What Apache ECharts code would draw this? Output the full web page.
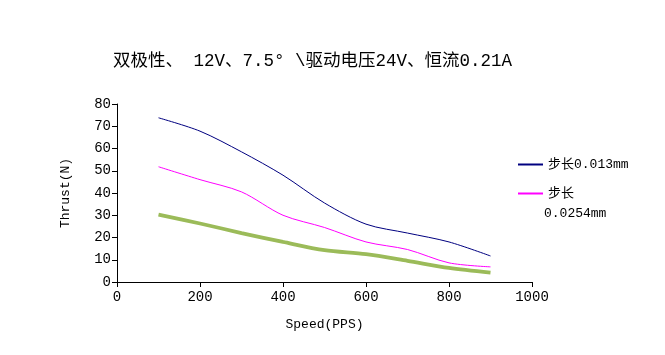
<!DOCTYPE html>
<html><head><meta charset="utf-8">
<script src="https://cdn.jsdelivr.net/npm/echarts@6/dist/echarts.min.js"></script>
<style>html,body{margin:0;padding:0;background:#fff}#c{width:665px;height:355px}</style>
</head><body><div id="c"></div>
<script>
var speeds = [100, 200, 300, 400, 500, 600, 700, 800, 900];
var step013 = [73.8, 67.8, 58.5, 48, 35.5, 26, 22, 18, 11.7];
var step0254 = [51.8, 46, 40.5, 30, 24.5, 18, 14.6, 8.6, 6.8];
var step3 = [30.3, 26.3, 22, 18, 14.3, 12.5, 9.5, 6.3, 4.2];
var xTicks = [0, 200, 400, 600, 800, 1000];
var yTicks = [0, 10, 20, 30, 40, 50, 60, 70, 80];
var titleText = '双极性、 12V、7.5° \\驱动电压24V、恒流0.21A';
var name1 = '步长0.013mm', name2 = '步长0.0254mm';
var MONO = '"Liberation Mono", "Noto Sans CJK SC", monospace';

function pairs(ys){ return speeds.map(function(x,i){ return [x, ys[i]]; }); }

var chart = echarts.init(document.getElementById('c'), null, {renderer:'canvas'});
chart.setOption({
  animation: false,
  backgroundColor: '#fff',
  title: { text: titleText, left: 108, top: 48,
    textStyle: { fontFamily: MONO, fontSize: 17.5, fontWeight: 'normal', color: '#000' } },
  grid: { left: 117, right: 133, top: 104, bottom: 73 },
  legend: {
    data: [name1, name2], orient: 'vertical', left: 512, top: 153,
    itemWidth: 25, itemHeight: 14, itemGap: 16,
    itemStyle: { opacity: 0 },
    formatter: function(n){ return n === name2 ? '步长' : n; },
    textStyle: { fontFamily: MONO, fontSize: 13, color: '#000' }
  },
  graphic: [{ type: 'text', left: 544, top: 207,
    style: { text: '0.0254mm', fontFamily: MONO, fontSize: 13, fill: '#000' } }],
  xAxis: { type: 'value', min: xTicks[0], max: xTicks[xTicks.length-1], interval: 200,
    name: 'Speed(PPS)', nameLocation: 'middle', nameGap: 36,
    nameTextStyle: { fontFamily: MONO, fontSize: 13, color: '#000' },
    axisLine: { lineStyle: { color: '#000' } },
    axisTick: { lineStyle: { color: '#000' }, length: 5 },
    axisLabel: { fontFamily: MONO, fontSize: 14, color: '#000', margin: 8,
      formatter: function(v){ return String(v); } },
    splitLine: { show: false } },
  yAxis: { type: 'value', min: yTicks[0], max: yTicks[yTicks.length-1], interval: 10,
    name: 'Thrust(N)', nameLocation: 'middle', nameGap: 45, nameRotate: 90,
    nameTextStyle: { fontFamily: MONO, fontSize: 13, color: '#000' },
    axisLine: { show: true, lineStyle: { color: '#000' } },
    axisTick: { show: true, lineStyle: { color: '#000' }, length: 5 },
    axisLabel: { fontFamily: MONO, fontSize: 14, color: '#000', margin: 6,
      formatter: function(v){ return String(v); } },
    splitLine: { show: false } },
  series: [
    { name: name1, type: 'line', data: pairs(step013), smooth: 0.3, symbol: 'none',
      lineStyle: { color: '#000080', width: 1 }, itemStyle: { color: '#000080' } },
    { name: name2, type: 'line', data: pairs(step0254), smooth: 0.3, symbol: 'none',
      lineStyle: { color: '#FF00FF', width: 1 }, itemStyle: { color: '#FF00FF' } },
    { name: 'third', type: 'line', data: pairs(step3), smooth: 0.3, symbol: 'none',
      lineStyle: { color: '#9BBB59', width: 3.8 }, itemStyle: { color: '#9BBB59' } }
  ]
});
</script></body></html>
